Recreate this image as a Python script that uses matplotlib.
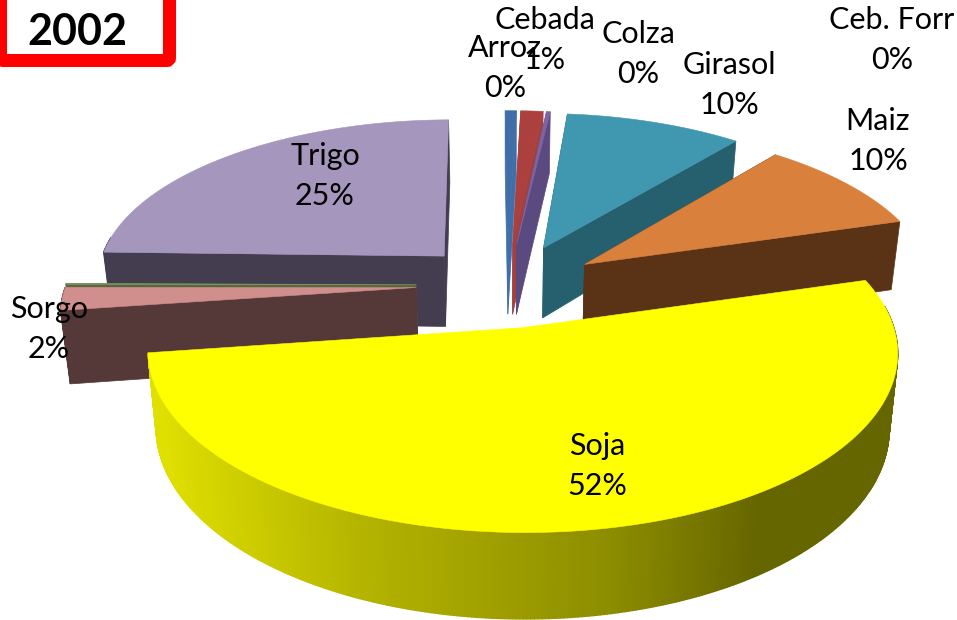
#!/usr/bin/env python
# -*- coding: utf-8 -*-
import numpy as np
import matplotlib
matplotlib.use("Agg")
import matplotlib.pyplot as plt
from matplotlib.patches import FancyBboxPatch, Polygon

plt.rcParams['font.family'] = ['Lato', 'DejaVu Sans']

# clockwise from the top of the pie
names = ["Arroz", "Cebada", "Colza", "Girasol", "Maiz", "Soja", "Sorgo", "Ceb. Forr", "Trigo"]
values = [0.6, 1.2, 0.2, 10, 10, 52, 2, 0.1, 25]
percent = ["0%", "1%", "0%", "10%", "10%", "52%", "2%", "0%", "25%"]
tops = ["#3f6ea8", "#ab403e", "#8064a2", "#4097b0", "#d8803c", "#ffff00", "#d08e8c", "#7e9a5e", "#a596bd"]
sides = ["#3f6ea8", "#a04040", "#5b4a80", "#265f6d", "#5a3317", "#ffff00", "#553838", "#55683f", "#433d4f"]
label_pos = [(505, 68), (545, 40), (638, 54), (729, 85), (878, 141), (597, 466), (49, 329), (892, 40), (325, 176)]
# the original perspective squeezes some slices, degrees off each end
trim_start = [0, 0, 0, -1.3, -3, -4, -1, 0, 1]
trim_end = [0, 0, 0, -3, -4.5, -1, 0, 0, 0]
# soja is a bit wider than the rest, it sits nearer the viewer
radius = [1, 1, 1, 1, 1, 1.025, 1, 1, 1]

START = -0.5
EXPLODE = 0.26
CX, CY = 507, 285
RX, RY = 350, 161
PERSP = 0.13
DEPTH = 72
TAPER = 0.022


def project(u, v, down=False):
    s = 1 + PERSP * v
    x = CX + RX * u / s
    y = CY - RY * v / s
    if down:
        y = y + DEPTH / s
        x = x + (CX - x) * TAPER
    return x, y


def shade(hexcol, f):
    c = np.array(matplotlib.colors.to_rgb(hexcol))
    return tuple(np.clip(c * f, 0, 1))


fig = plt.figure(figsize=(9.57, 6.2), dpi=100)
ax = fig.add_axes([0, 0, 1, 1])
ax.set_xlim(0, 957)
ax.set_ylim(620, 0)
ax.axis("off")

angles = START + np.cumsum([0] + values) / sum(values) * 360
slices = []
for i in range(len(values)):
    mid = np.radians(angles[i] + angles[i + 1]) / 2
    a1, a2 = np.radians(angles[i] + trim_start[i]), np.radians(angles[i + 1] + trim_end[i])
    slices.append((i, a1, a2, EXPLODE * np.sin(mid), EXPLODE * np.cos(mid)))

# far slices first, soja ends up on top of everything
order = [8, 0, 1, 2, 3, 4, 7, 6, 5]
z = 2
for i in order:
    _, a1, a2, u0, v0 = slices[i]
    r = radius[i]
    th = np.linspace(a1, a2, max(3, int(np.degrees(a2 - a1) * 2)))
    us = u0 + r * np.sin(th)
    vs = v0 + r * np.cos(th)

    # the two cut faces, back one first
    for a in sorted([a1, a2], key=lambda t: -np.cos(t)):
        p = [project(u0, v0), project(u0 + r * np.sin(a), v0 + r * np.cos(a)),
             project(u0 + r * np.sin(a), v0 + r * np.cos(a), True), project(u0, v0, True)]
        if i != 5:
            ax.add_patch(Polygon(p, closed=True, fc=sides[i], ec=sides[i], lw=0.5, zorder=z))
    z += 1

    # outer wall, split in strips for the left to right shading
    for k in range(len(th) - 1):
        if np.cos((th[k] + th[k + 1]) / 2) > 0.12:
            continue
        p = [project(us[k], vs[k]), project(us[k + 1], vs[k + 1]),
             project(us[k + 1], vs[k + 1], True), project(us[k], vs[k], True)]
        t = (p[0][0] - 155) / 710.0
        f = np.interp(t, [0, 0.3, 0.65, 0.85, 1], [0.88, 0.7, 0.55, 0.4, 0.4])
        col = shade(tops[i], f) if i == 5 else sides[i]
        ax.add_patch(Polygon(p, closed=True, fc=col, ec=col, lw=1.0, zorder=z))
    z += 1

    # top of the slice
    p = [project(u0, v0)] + [project(a, b) for a, b in zip(us, vs)]
    ax.add_patch(Polygon(p, closed=True, fc=tops[i], ec=tops[i], lw=0.4, zorder=z))
    z += 1

for n, pc, pos in zip(names, percent, label_pos):
    ax.text(pos[0], pos[1], n + "\n" + pc, ha="center", va="center", fontsize=22,
            linespacing=1.5, color="black", zorder=100)

ax.add_patch(FancyBboxPatch((0.5, -30), 169, 90.5, boxstyle="round,pad=0,rounding_size=3",
                            fc="white", ec="#ff0000", lw=9.4, zorder=101))
ax.text(77, 32, "2002", ha="center", va="center", fontsize=31, fontweight="bold", zorder=102)

fig.savefig("out.png", dpi=100)
